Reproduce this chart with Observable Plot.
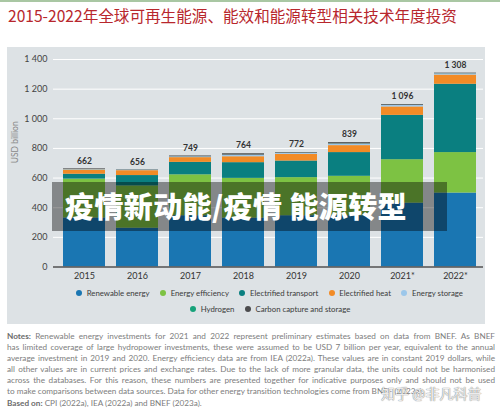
<!DOCTYPE html>
<html><head><meta charset="utf-8">
<script src="https://cdn.jsdelivr.net/npm/d3@7"></script>
<script src="https://cdn.jsdelivr.net/npm/@observablehq/plot@0.6"></script>
<style>
body{margin:0;width:500px;height:414px;background:#fff;position:relative;overflow:hidden;font-family:Lato,"Open Sans",sans-serif}
#topline{position:absolute;left:0;top:0;width:500px;height:2px;background:#a9c7a3}
#title{position:absolute;left:8px;top:4px;font-family:"Noto Sans CJK SC",sans-serif;font-size:15.6px;color:#b8272d;white-space:nowrap;line-height:22px}
#panel{position:absolute;left:7px;top:47px;width:478px;height:277px;background:#dde2e5}
#chart{position:absolute;left:0;top:0}
.lrow{position:absolute;display:flex;align-items:center;font-size:7.8px;color:#3a3a3a;white-space:nowrap}
.li{display:flex;align-items:center;margin-right:10.4px}
.dot{width:6px;height:6px;border-radius:50%;margin-right:4.7px}
#overlay{position:absolute;left:52px;top:182px;width:395px;height:49px;background:rgba(0,0,0,0.4);color:#fff;font-family:"Noto Sans CJK SC",sans-serif;font-weight:900;font-size:29px;letter-spacing:0.4px;line-height:47px;padding-left:13px;box-sizing:border-box;white-space:nowrap}
#notes{position:absolute;left:7px;top:331px;width:488px;font-size:8.2px;line-height:11.1px;color:#7d7d7d}
#notes div{white-space:nowrap;text-align:justify;text-align-last:justify}
#notes div.last{text-align-last:left}
#notes b{color:#6b6b6b}
#wm{position:absolute;left:381px;top:383px;font-family:"Noto Sans CJK SC",sans-serif;font-size:14px;color:rgba(255,255,255,0.85);text-shadow:0 0 1px #888,0 0 1px #888;white-space:nowrap}
</style></head><body>
<div id="topline"></div>
<div id="title"></div>
<div id="panel"><div id="chart"></div><div id="leg1" class="lrow"></div><div id="leg2" class="lrow"></div></div>
<div id="overlay"></div>
<div id="notes"></div>
<div id="wm"></div>
<script>
const titleText = "2015-2022年全球可再生能源、能效和能源转型相关技术年度投资";
const overlayText = "疫情新动能/疫情 能源转型";
const watermark = "知乎 @非凡科普";
const years = ["2015","2016","2017","2018","2019","2020","2021*","2022*"];
const renewable = [331,262,346,330,346,346,431,499];
const efficiency = [262,285,276,268,257,266,293,273];
const transport = [33,70,84,106,112,160,299,461];
const heat = [28,33,32,40,45,47,57,62];
const storage = [3,3,5,10,7,10,10,8];
const hydrogen = [0.5,0.5,0.5,1,1,1.5,1,1];
const ccs = [4.5,2.5,5.5,9,4,8.5,5,4];
const totals = [662,656,749,764,772,839,1096,1308];
const totalLabels = ["662","656","749","764","772","839","1 096","1 308"];
const seriesNames = ["Renewable energy","Energy efficiency","Electrified transport","Electrified heat","Energy storage","Hydrogen","Carbon capture and storage"];
const seriesColors = ["#1a76b2","#7dc243","#0a7f80","#f28b26","#9cc7ea","#16a27a","#4b4b4d"];
const legendRow1 = [0,1,2,3,4];
const legendRow2 = [5,6];
const yTicks = [0,200,400,600,800,1000,1200,1400];
const yTickLabels = ["0","200","400","600","800","1 000","1 200","1 400"];
const yLabel = "USD billion";
const notesLines = [
 ["Notes:", " Renewable energy investments for 2021 and 2022 represent preliminary estimates based on data from BNEF. As BNEF"],
 ["", "has limited coverage of large hydropower investments, these were assumed to be USD 7 billion per year, equivalent to the annual"],
 ["", "average investment in 2019 and 2020. Energy efficiency data are from IEA (2022a). These values are in constant 2019 dollars, while"],
 ["", "all other values are in current prices and exchange rates. Due to the lack of more granular data, the units could not be harmonised"],
 ["", "across the databases. For this reason, these numbers are presented together for indicative purposes only and should not be used"],
 ["", "to make comparisons between data sources. Data for other energy transition technologies come from BNEF (2023a)."],
 ["Based on:", " CPI (2022a), IEA (2022a) and BNEF (2023a)."]
];

document.getElementById("title").textContent = titleText;
document.getElementById("overlay").textContent = overlayText;
document.getElementById("wm").textContent = watermark;

const seriesValues = [renewable, efficiency, transport, heat, storage, hydrogen, ccs];
const data = [];
years.forEach((y, i) => seriesNames.forEach((s, j) => data.push({year: y, series: s, value: seriesValues[j][i]})));

const chart = Plot.plot({
  width: 478, height: 242, marginTop: 12, marginBottom: 22.5, marginLeft: 46, marginRight: 2,
  style: {background: "transparent", fontFamily: "Lato, 'Open Sans', sans-serif", fontSize: "9px", color: "#3a3a3a"},
  x: {type: "band", domain: years, range: [42, 484], padding: 0.2, label: null},
  y: {domain: [0, 1400], label: null},
  color: {domain: seriesNames, range: seriesColors},
  marks: [
    Plot.ruleY(yTicks.filter(d => d > 0), {stroke: "#ffffff", strokeWidth: 1}),
    Plot.barY(data, {x: "year", y: "value", fill: "series", order: seriesNames}),
    Plot.ruleY([0], {stroke: "#505050", strokeWidth: 1.3}),
    Plot.text(years, {x: d => d, y: (d, i) => totals[i], text: (d, i) => totalLabels[i], dy: -8, fontWeight: "bold", fontSize: 8.5, fill: "#333"}),
    Plot.axisY({ticks: yTicks, tickFormat: d => yTickLabels[yTicks.indexOf(d)], tickSize: 0, tickPadding: 6, label: null, fill: "#444"}),
    Plot.axisX({tickSize: 0, tickPadding: 6, label: null, fill: "#333"}),
    Plot.text([yLabel], {frameAnchor: "left", dx: -38, rotate: -90, fill: "#8a8a8a", fontSize: 8.5})
  ]
});
document.getElementById("chart").appendChild(chart);

function buildLegend(el, idxs, left, top) {
  el.style.left = left + "px"; el.style.top = top + "px";
  idxs.forEach(i => {
    const item = document.createElement("div"); item.className = "li";
    const dot = document.createElement("div"); dot.className = "dot"; dot.style.background = seriesColors[i];
    const t = document.createElement("span"); t.textContent = seriesNames[i];
    item.appendChild(dot); item.appendChild(t); el.appendChild(item);
  });
}
buildLegend(document.getElementById("leg1"), legendRow1, 69, 241);
buildLegend(document.getElementById("leg2"), legendRow2, 183, 257);

const notes = document.getElementById("notes");
notesLines.forEach((ln, i) => {
  const d = document.createElement("div");
  if (i === 5 || i === 6) d.className = "last";
  if (ln[0]) { const b = document.createElement("b"); b.textContent = ln[0]; d.appendChild(b); }
  d.appendChild(document.createTextNode(ln[1]));
  notes.appendChild(d);
});
</script>
</body></html>
